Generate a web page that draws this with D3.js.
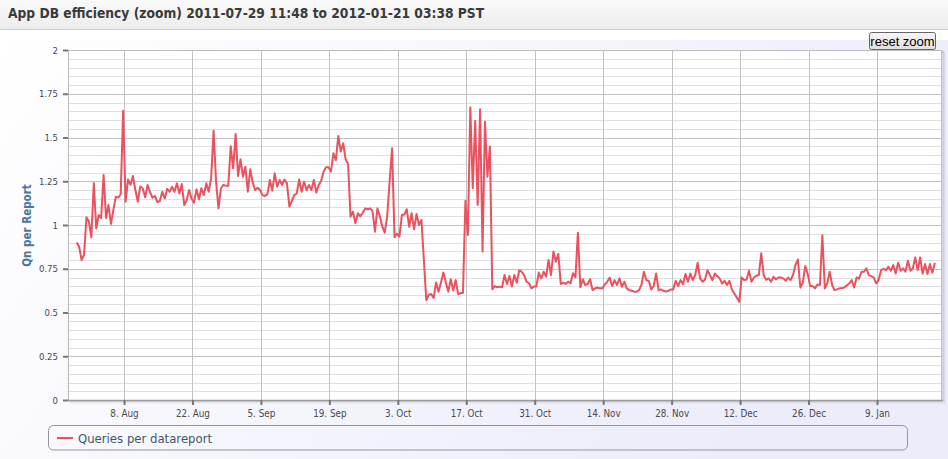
<!DOCTYPE html>
<html><head><meta charset="utf-8">
<script src="https://cdn.jsdelivr.net/npm/d3@7"></script>
<style>body{margin:0;background:#fff;} svg{display:block}</style>
</head><body>
<svg id="c" width="948" height="459"></svg>
<script>
const chartTitle = "App DB efficiency (zoom) 2011-07-29 11:48 to 2012-01-21 03:38 PST";
const seriesName = "Queries per datareport";
const yAxisTitle = "Qn per Report";
const resetLabel = "reset zoom";
const startTime = "2011-07-29T07:50:00Z";
const stepHours = 12;
const values = [
0.90,0.876,0.80,0.83,1.044,1.02,0.93,1.24,0.98,1.057,
1.04,1.286,1.04,1.114,1.006,1.086,1.162,1.156,1.177,1.653,
1.133,1.26,1.23,1.28,1.2,1.133,1.22,1.21,1.158,1.229,
1.187,1.156,1.166,1.131,1.137,1.19,1.152,1.206,1.19,1.219,
1.19,1.238,1.18,1.234,1.114,1.143,1.2,1.15,1.128,1.204,
1.147,1.21,1.171,1.238,1.19,1.27,1.539,1.248,1.095,1.21,
1.229,1.225,1.225,1.45,1.324,1.52,1.28,1.375,1.276,1.333,
1.19,1.318,1.242,1.2,1.213,1.2,1.171,1.166,1.175,1.257,
1.196,1.295,1.219,1.257,1.229,1.26,1.238,1.105,1.137,1.171,
1.18,1.26,1.19,1.248,1.2,1.229,1.2,1.257,1.185,1.229,
1.253,1.305,1.33,1.33,1.305,1.41,1.37,1.509,1.42,1.467,
1.375,1.349,1.048,1.076,1.01,1.067,1.05,
1.07,1.095,1.09,1.095,1.08,0.962,1.095,1.05,0.99,0.956,
1.05,1.25,1.438,0.93,0.95,0.933,1.057,1.06,1.09,0.99,
1.067,0.975,1.063,1.0,1.029,0.80,0.571,0.6,0.606,0.583,
0.672,0.619,0.672,0.728,0.672,0.619,0.69,0.625,0.686,0.606,
0.61,0.613,1.139,0.943,1.672,1.21,1.596,1.114,1.661,0.848,
1.59,1.276,1.448,0.632,0.651,0.644,0.648,0.644,0.714,0.663,
0.709,0.648,0.714,0.67,0.74,0.733,0.714,0.676,0.667,0.638,
0.648,0.648,0.728,0.695,0.733,0.705,0.8,0.714,0.848,0.79,
0.834,0.663,0.67,0.663,0.676,0.667,0.724,0.701,0.956,0.644,
0.69,0.657,0.663,0.69,
0.628,0.638,0.643,0.638,0.638,0.66,0.675,0.7,0.651,0.685,
0.657,0.695,0.647,0.676,0.638,0.628,0.624,0.619,0.619,0.628,
0.657,0.733,0.685,0.68,0.632,0.651,0.723,0.628,0.632,0.624,
0.619,0.624,0.632,0.632,0.681,0.651,0.685,0.662,0.72,0.676,
0.723,0.685,0.714,0.784,0.695,0.676,0.689,0.742,0.714,0.685,
0.723,0.708,0.695,0.666,0.681,0.657,0.681,0.632,0.609,0.586,
0.561,0.7,0.685,0.689,0.739,0.676,0.7,0.71,0.714,0.838,
0.714,0.687,0.695,0.676,0.704,0.689,0.7,0.7,0.695,0.681,
0.7,0.685,0.714,0.771,0.803,0.643,0.67,0.765,0.72,0.651,
0.651,0.638,0.66,0.657,0.942,0.638,0.666,0.733,0.657,0.628,
0.632,0.638,0.64,0.643,0.655,0.666,0.685,0.643,0.7,0.693,
0.733,0.733,0.752,0.714,0.708,0.7,0.666,0.685,0.742,0.75,
0.742,0.761,0.739,0.771,0.723,0.784,0.739,0.752,0.733,0.796,
0.739,0.752,0.815,0.742,0.815,0.723,0.777,0.72,0.777,0.727,
0.784
];
const xDomain = ["2011-07-27T13:08:00Z", "2012-01-22T07:03:00Z"];
const xTicks = ["2011-08-08","2011-08-22","2011-09-05","2011-09-19","2011-10-03","2011-10-17",
                "2011-10-31","2011-11-14","2011-11-28","2011-12-12","2011-12-26","2012-01-09"];
const yTicks = [0, 0.25, 0.5, 0.75, 1, 1.25, 1.5, 1.75, 2];
const yTickLabels = ["0", "0.25", "0.5", "0.75", "1", "1.25", "1.5", "1.75", "2"];

const FONT = "'DejaVu Sans Condensed', 'DejaVu Sans', Tahoma, sans-serif";
const svg = d3.select("#c");
const W = 948, H = 459;
const plot = {l: 68, r: 942, t: 50, b: 400};

const t0 = new Date(startTime).getTime();
const data = values.map((v, i) => ({t: new Date(t0 + i * stepHours * 3600e3), v}));

const x = d3.scaleUtc().domain(xDomain.map(d => new Date(d))).range([plot.l, plot.r]);
const y = d3.scaleLinear().domain([0, 2]).range([plot.b, plot.t]);

const defs = svg.append("defs");
const g1 = defs.append("linearGradient").attr("id", "titleBg").attr("x1", 0).attr("y1", 0).attr("x2", 0).attr("y2", 1);
g1.append("stop").attr("offset", 0).attr("stop-color", "#fafafa");
g1.append("stop").attr("offset", 1).attr("stop-color", "#ececec");
const g2 = defs.append("linearGradient").attr("id", "chartBg").attr("x1", 0).attr("y1", 0).attr("x2", 1).attr("y2", 0.35);
g2.append("stop").attr("offset", 0).attr("stop-color", "#ffffff");
g2.append("stop").attr("offset", 1).attr("stop-color", "#ececfb");
const g3 = defs.append("linearGradient").attr("id", "btnBg").attr("x1", 0).attr("y1", 0).attr("x2", 0).attr("y2", 1);
g3.append("stop").attr("offset", 0).attr("stop-color", "#f6f6f6");
g3.append("stop").attr("offset", 1).attr("stop-color", "#dedede");

// backgrounds
svg.append("rect").attr("x", 0).attr("y", 0).attr("width", W).attr("height", H).attr("fill", "#fff");
svg.append("rect").attr("x", 0).attr("y", 0).attr("width", W).attr("height", 29).attr("fill", "url(#titleBg)");
svg.append("line").attr("x1", 0).attr("x2", W).attr("y1", 29.5).attr("y2", 29.5).attr("stroke", "#cfcfcf");
svg.append("rect").attr("x", 0).attr("y", 40).attr("width", W).attr("height", H - 40).attr("fill", "url(#chartBg)");

svg.append("text").attr("x", 8).attr("y", 18).attr("font-family", FONT).attr("font-weight", "bold")
  .attr("font-size", 13.7).attr("fill", "#3a3a3a").text(chartTitle);

// plot shadow
[[3, 0.05], [2, 0.1], [1, 0.15]].forEach(([o, op]) => {
  svg.append("rect").attr("x", plot.l + o).attr("y", plot.t + o)
    .attr("width", plot.r - plot.l).attr("height", plot.b - plot.t)
    .attr("fill", "none").attr("stroke", "#000").attr("stroke-opacity", op).attr("stroke-width", 1);
});
svg.append("rect").attr("x", plot.l).attr("y", plot.t).attr("width", plot.r - plot.l)
  .attr("height", plot.b - plot.t).attr("fill", "#fff");

// minor grid
const minor = y.ticks(40).filter(v => Math.abs(v * 4 - Math.round(v * 4)) > 1e-6);
svg.append("g").selectAll("line").data(minor).join("line")
  .attr("x1", plot.l).attr("x2", plot.r)
  .attr("y1", d => Math.round(y(d)) + 0.5).attr("y2", d => Math.round(y(d)) + 0.5)
  .attr("stroke", "#e0e0e0");
// major grid
svg.append("g").selectAll("line").data(yTicks).join("line")
  .attr("x1", plot.l).attr("x2", plot.r)
  .attr("y1", d => Math.round(y(d)) + 0.5).attr("y2", d => Math.round(y(d)) + 0.5)
  .attr("stroke", "#c2c2c2");
const xTickDates = xTicks.map(d => new Date(d + "T00:00:00Z"));
svg.append("g").selectAll("line").data(xTickDates).join("line")
  .attr("x1", d => Math.round(x(d)) + 0.5).attr("x2", d => Math.round(x(d)) + 0.5)
  .attr("y1", plot.t).attr("y2", plot.b)
  .attr("stroke", "#c2c2c2");
// plot top/right border
svg.append("line").attr("x1", plot.l).attr("x2", plot.r).attr("y1", plot.t + 0.5).attr("y2", plot.t + 0.5).attr("stroke", "#bdbdbd");
svg.append("line").attr("x1", plot.r - 0.5).attr("x2", plot.r - 0.5).attr("y1", plot.t).attr("y2", plot.b).attr("stroke", "#bdbdbd");

// y axis
const yAxis = d3.axisLeft(y).tickValues(yTicks).tickFormat((d, i) => yTickLabels[i]).tickSize(5).tickPadding(5);
const ya = svg.append("g").attr("transform", `translate(${plot.l},0)`).call(yAxis);
ya.select(".domain").attr("stroke", "#b8b8b8").attr("d", `M0.5,${plot.t}V${plot.b}`);
ya.selectAll(".tick line").attr("stroke", "#777").attr("stroke-width", 2);
ya.selectAll(".tick text").attr("font-family", FONT).attr("font-size", 9.5).attr("fill", "#4a4a4a");

// x axis
const xAxis = d3.axisBottom(x).tickValues(xTickDates).tickFormat(d3.utcFormat("%-d. %b")).tickSize(5).tickPadding(5);
const xa = svg.append("g").attr("transform", `translate(0,${plot.b})`).call(xAxis);
xa.select(".domain").attr("stroke", "#9a9a9a").attr("stroke-width", 1.5).attr("d", `M${plot.l},0.5H${plot.r + 1}`);
xa.selectAll(".tick line").attr("stroke", "#777").attr("stroke-width", 2);
xa.selectAll(".tick text").attr("font-family", FONT).attr("font-size", 9.8).attr("fill", "#4a4a4a");

// y title
svg.append("text").attr("transform", `translate(31,225.5) rotate(-90)`).attr("text-anchor", "middle")
  .attr("font-family", FONT).attr("font-weight", "bold").attr("font-size", 11.5).attr("fill", "#4d759e")
  .text(yAxisTitle);

// series line
const line = d3.line().x(d => x(d.t)).y(d => y(d.v));
svg.append("path").datum(data).attr("d", line).attr("fill", "none")
  .attr("stroke", "#e9525e").attr("stroke-width", 2).attr("stroke-linejoin", "round");

// legend
svg.append("rect").attr("x", 48.5).attr("y", 425.5).attr("width", 859).attr("height", 24.5).attr("rx", 5)
  .attr("fill", "none").attr("stroke", "#959595");
svg.append("line").attr("x1", 57).attr("x2", 73).attr("y1", 438).attr("y2", 438)
  .attr("stroke", "#e9525e").attr("stroke-width", 2);
svg.append("text").attr("x", 78).attr("y", 442.5).attr("font-family", FONT).attr("font-size", 13)
  .attr("fill", "#3e576f").text(seriesName);

// reset zoom button
svg.append("rect").attr("x", 869.5).attr("y", 32.5).attr("width", 66).attr("height", 17).attr("rx", 2)
  .attr("fill", "url(#btnBg)").attr("stroke", "#666");
svg.append("text").attr("x", 902.5).attr("y", 45.5).attr("text-anchor", "middle")
  .attr("font-family", "'Liberation Sans', Arial, sans-serif").attr("font-size", 13).attr("fill", "#000")
  .text(resetLabel);
</script>
</body></html>
